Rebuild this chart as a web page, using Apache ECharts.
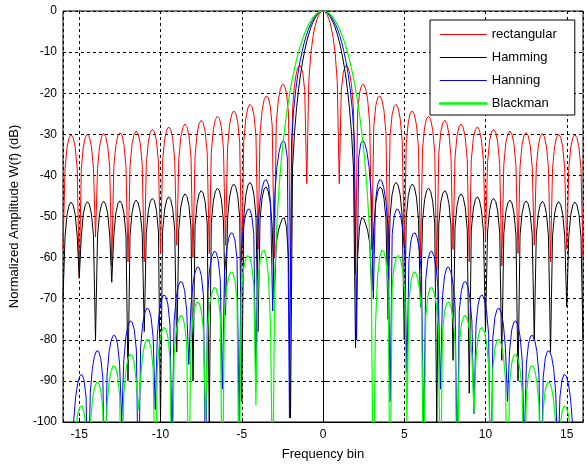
<!DOCTYPE html>
<html>
<head>
<meta charset="utf-8">
<script src="https://cdn.jsdelivr.net/npm/echarts@6/dist/echarts.min.js"></script>
<style>
  html, body { margin: 0; padding: 0; background: #fff; }
  #chart { width: 587px; height: 466px; }
</style>
</head>
<body>
<div id="chart"></div>
<script>
// window spectra in dB
// rectangular / Hamming: one value every 1/8 bin, from bin -16 to 16
const binStart = -16;
const binStep = 0.125;

const rectangular = [
  -58, -38.4, -33.1, -30.8, -30.1, -30.8, -33.1, -38.4,
  -65, -38.4, -33.0, -30.7, -30.0, -30.7, -33.0, -38.3,
  -55, -38.3, -32.9, -30.6, -29.8, -30.5, -32.8, -38.1,
  -62, -38.0, -32.7, -30.3, -29.6, -30.2, -32.5, -37.8,
  -61, -37.7, -32.3, -30.0, -29.2, -29.9, -32.1, -37.4,
  -61, -37.3, -31.9, -29.5, -28.8, -29.4, -31.6, -36.9,
  -59, -36.8, -31.4, -29.0, -28.2, -28.8, -31.0, -36.3,
  -57, -36.1, -30.7, -28.3, -27.5, -28.1, -30.3, -35.5,
  -60, -35.3, -29.9, -27.4, -26.6, -27.2, -29.4, -34.6,
  -59, -34.4, -28.9, -26.4, -25.6, -26.1, -28.3, -33.5,
  -57, -33.2, -27.7, -25.2, -24.3, -24.8, -27.0, -32.1,
  -61, -31.7, -26.2, -23.6, -22.7, -23.2, -25.3, -30.4,
  -58, -29.8, -24.2, -21.6, -20.7, -21.0, -23.0, -28.0,
  -60, -27.4, -21.7, -18.9, -17.8, -18.1, -19.9, -24.8,
  -66, -23.7, -17.8, -14.8, -13.4, -13.4, -14.9, -19.3,
  -42, -17.1, -10.4, -6.5, -3.9, -2.1, -0.9, -0.2,
  0, -0.2, -0.9, -2.1, -3.9, -6.5, -10.4, -17.1,
  -42, -19.3, -14.9, -13.4, -13.4, -14.8, -17.8, -23.7,
  -64, -24.8, -19.9, -18.1, -17.8, -18.9, -21.7, -27.4,
  -58, -28.0, -23.0, -21.0, -20.7, -21.6, -24.2, -29.8,
  -62, -30.4, -25.3, -23.2, -22.7, -23.6, -26.2, -31.7,
  -57, -32.1, -27.0, -24.8, -24.3, -25.2, -27.7, -33.2,
  -60, -33.5, -28.3, -26.1, -25.6, -26.4, -28.9, -34.4,
  -63, -34.6, -29.4, -27.2, -26.6, -27.4, -29.9, -35.3,
  -58, -35.5, -30.3, -28.1, -27.5, -28.3, -30.7, -36.1,
  -61, -36.3, -31.0, -28.8, -28.2, -29.0, -31.4, -36.8,
  -56, -36.9, -31.6, -29.4, -28.8, -29.5, -31.9, -37.3,
  -62, -37.4, -32.1, -29.9, -29.2, -30.0, -32.3, -37.7,
  -59, -37.8, -32.5, -30.2, -29.6, -30.3, -32.7, -38.0,
  -57, -38.1, -32.8, -30.5, -29.8, -30.6, -32.9, -38.3,
  -61, -38.3, -33.0, -30.7, -30.0, -30.7, -33.0, -38.4,
  -58, -38.4, -33.1, -30.8, -30.1, -30.8, -33.1, -38.4,
  -60
];

const hamming = [
  -70, -54.9, -49.5, -47.2, -46.5, -47.2, -49.5, -54.8,
  -65, -54.8, -49.4, -47.1, -46.4, -47.1, -49.4, -54.7,
  -80, -54.7, -49.3, -47.0, -46.3, -47.0, -49.3, -54.6,
  -66, -54.6, -49.2, -46.9, -46.2, -46.9, -49.2, -54.5,
  -90, -54.5, -49.1, -46.7, -46.0, -46.7, -48.9, -54.2,
  -78, -54.1, -48.7, -46.3, -45.6, -46.2, -48.5, -53.8,
  -100, -53.7, -48.4, -46.0, -45.2, -45.8, -48.1, -53.3,
  -83, -53.1, -47.7, -45.3, -44.5, -45.1, -47.3, -52.6,
  -90, -52.3, -46.9, -44.5, -43.7, -44.3, -46.5, -51.8,
  -100, -51.7, -46.3, -43.9, -43.1, -43.7, -45.9, -51.1,
  -74, -50.7, -45.3, -42.9, -42.1, -42.7, -44.9, -50.2,
  -95, -50.1, -44.8, -42.4, -41.7, -42.4, -44.7, -50.0,
  -78, -50.7, -45.5, -43.3, -42.8, -43.8, -46.6, -52.5,
  -70, -56.5, -53.5, -51.8, -50.5, -50.3, -52.5, -60,
  -99, -38.2, -29.4, -23.5, -18.9, -15.2, -12.2, -9.6,
  -7.4, -5.6, -4.0, -2.8, -1.8, -1.0, -0.4, -0.1,
  0, -0.1, -0.4, -1.0, -1.8, -2.8, -4.0, -5.6,
  -7.4, -9.6, -12.2, -15.2, -18.9, -23.5, -29.4, -38.2,
  -82, -60, -52.5, -50.3, -50.5, -51.8, -53.5, -56.5,
  -68, -52.5, -46.6, -43.8, -42.8, -43.3, -45.5, -50.7,
  -75, -50.0, -44.7, -42.4, -41.7, -42.4, -44.8, -50.1,
  -80, -50.2, -44.9, -42.7, -42.1, -42.9, -45.3, -50.7,
  -72, -51.1, -45.9, -43.7, -43.1, -43.9, -46.3, -51.7,
  -100, -51.8, -46.5, -44.3, -43.7, -44.5, -46.9, -52.3,
  -85, -52.6, -47.3, -45.1, -44.5, -45.3, -47.7, -53.1,
  -93, -53.3, -48.1, -45.8, -45.2, -46.0, -48.4, -53.7,
  -78, -53.8, -48.5, -46.2, -45.6, -46.3, -48.7, -54.1,
  -85, -54.2, -48.9, -46.7, -46.0, -46.7, -49.1, -54.5,
  -90, -54.5, -49.2, -46.9, -46.2, -46.9, -49.2, -54.6,
  -80, -54.6, -49.3, -47.0, -46.3, -47.0, -49.3, -54.7,
  -83, -54.7, -49.4, -47.1, -46.4, -47.1, -49.4, -54.8,
  -72, -54.8, -49.5, -47.2, -46.5, -47.2, -49.5, -54.9,
  -80
];

// Hanning / Blackman (symmetric 32-pt windows): lobes are 32/31 bin wide,
// one value every 1/8 lobe, from lobe -15.5 to 15.5 (= bin -16 .. 16)
const lobeStart = -15.5;
const lobeStep = 0.125;
const lobeRange = 15.5;

const hanning = [
  -101.5, -102, -104, -110,
  -120, -100.4, -94.0, -90.6, -88.8, -88.4, -89.7, -93.9,
  -120, -92.9, -87.0, -84.0, -82.7, -82.8, -84.5, -89.2,
  -120, -88.6, -82.8, -80.1, -78.9, -79.1, -81.0, -85.9,
  -100, -85.0, -79.2, -76.5, -75.4, -75.7, -77.6, -82.5,
  -120, -81.8, -76.1, -73.4, -72.3, -72.6, -74.5, -79.5,
  -97, -78.7, -72.9, -70.2, -69.1, -69.4, -71.3, -76.2,
  -105, -75.4, -69.7, -66.9, -65.8, -66.1, -68.0, -72.9,
  -86, -72.0, -66.2, -63.5, -62.3, -62.5, -64.4, -69.3,
  -115, -68.4, -62.6, -59.7, -58.5, -58.7, -60.5, -65.3,
  -92, -64.3, -58.3, -55.3, -54.0, -54.1, -55.7, -60.4,
  -100, -59.0, -52.9, -49.8, -48.3, -48.2, -49.7, -54.3,
  -90, -52.6, -46.3, -43.0, -41.3, -41.0, -42.3, -46.6,
  -73, -44.7, -38.1, -34.4, -32.3, -31.5, -32.2, -35.8,
  -99, -31.8, -24.1, -19.2, -15.4, -12.4, -9.9, -7.8,
  -6.0, -4.5, -3.3, -2.3, -1.4, -0.8, -0.4, -0.1,
  0, -0.1, -0.4, -0.8, -1.4, -2.3, -3.3, -4.5,
  -6.0, -7.8, -9.9, -12.4, -15.4, -19.2, -24.1, -31.8,
  -80, -35.8, -32.2, -31.5, -32.3, -34.4, -38.1, -44.7,
  -70, -46.6, -42.3, -41.0, -41.3, -43.0, -46.3, -52.6,
  -95, -54.3, -49.7, -48.2, -48.3, -49.8, -52.9, -59.0,
  -88, -60.4, -55.7, -54.1, -54.0, -55.3, -58.3, -64.3,
  -105, -65.3, -60.5, -58.7, -58.5, -59.7, -62.6, -68.4,
  -92, -69.3, -64.4, -62.5, -62.3, -63.5, -66.2, -72.0,
  -110, -72.9, -68.0, -66.1, -65.8, -66.9, -69.7, -75.4,
  -98, -76.2, -71.3, -69.4, -69.1, -70.2, -72.9, -78.7,
  -120, -79.5, -74.5, -72.6, -72.3, -73.4, -76.1, -81.8,
  -95, -82.5, -77.6, -75.7, -75.4, -76.5, -79.2, -85.0,
  -105, -85.9, -81.0, -79.1, -78.9, -80.1, -82.8, -88.6,
  -120, -89.2, -84.5, -82.8, -82.7, -84.0, -87.0, -92.9,
  -110, -93.9, -89.7, -88.4, -88.8, -90.6, -94.0, -100.4,
  -120, -110, -104, -102, -101.5
];

const blackman = [
  -106, -106, -108, -115,
  -120, -108.0, -101.4, -98.1, -96.4, -96.1, -97.5, -101.8,
  -120, -100.6, -94.7, -91.7, -90.4, -90.5, -92.2, -96.9,
  -120, -95.9, -90.2, -87.4, -86.3, -86.6, -88.5, -93.4,
  -120, -93.0, -87.3, -84.6, -83.5, -83.8, -85.7, -90.6,
  -97, -89.5, -83.7, -81.0, -79.9, -80.2, -82.1, -87.0,
  -120, -86.4, -80.7, -78.1, -77.0, -77.3, -79.3, -84.3,
  -120, -83.6, -77.9, -75.2, -74.1, -74.4, -76.3, -81.3,
  -120, -80.4, -74.7, -71.9, -70.8, -71.1, -73.0, -77.9,
  -100, -77.0, -71.2, -68.5, -67.3, -67.5, -69.4, -74.3,
  -120, -73.3, -67.5, -64.7, -63.5, -63.7, -65.5, -70.4,
  -120, -68.8, -63.2, -60.5, -59.5, -59.9, -61.9, -66.8,
  -96, -66.1, -60.7, -58.5, -58.2, -60.0, -64.7, -76.9,
  -120, -64.1, -51.5, -43.2, -36.9, -31.8, -27.5, -23.7,
  -20.4, -17.5, -15.0, -12.7, -10.6, -8.8, -7.2, -5.8,
  -4.5, -3.4, -2.5, -1.7, -1.1, -0.6, -0.3, -0.1,
  0, -0.1, -0.3, -0.6, -1.1, -1.7, -2.5, -3.4,
  -4.5, -5.8, -7.2, -8.8, -10.6, -12.7, -15.0, -17.5,
  -20.4, -23.7, -27.5, -31.8, -36.9, -43.2, -51.5, -64.1,
  -120, -76.9, -64.7, -60.0, -58.2, -58.5, -60.7, -66.1,
  -120, -66.8, -61.9, -59.9, -59.5, -60.5, -63.2, -68.8,
  -100, -70.4, -65.5, -63.7, -63.5, -64.7, -67.5, -73.3,
  -120, -74.3, -69.4, -67.5, -67.3, -68.5, -71.2, -77.0,
  -120, -77.9, -73.0, -71.1, -70.8, -71.9, -74.7, -80.4,
  -120, -81.3, -76.3, -74.4, -74.1, -75.2, -77.9, -83.6,
  -98, -84.3, -79.3, -77.3, -77.0, -78.1, -80.7, -86.4,
  -120, -87.0, -82.1, -80.2, -79.9, -81.0, -83.7, -89.5,
  -120, -90.6, -85.7, -83.8, -83.5, -84.6, -87.3, -93.0,
  -120, -93.4, -88.5, -86.6, -86.3, -87.4, -90.2, -95.9,
  -120, -96.9, -92.2, -90.5, -90.4, -91.7, -94.7, -100.6,
  -120, -101.8, -97.5, -96.1, -96.4, -98.1, -101.4, -108.0,
  -120, -115, -108, -106, -106
];

const seriesNames = ['rectangular', 'Hamming', 'Hanning', 'Blackman'];
const seriesColors = ['#ff0000', '#000000', '#0000ff', '#00ff00'];

const font = '"Liberation Sans", Arial, sans-serif';

function pairs(values, start, step) {
  return values.map((v, i) => [start + i * step, v]);
}

const gridDash = { color: '#000', width: 1, type: [3, 3] };

let myChart = echarts.init(document.getElementById('chart'));
let option = {
  animation: false,
  backgroundColor: '#fff',
  textStyle: { fontFamily: font },
  grid: {
    left: 62, right: 4, top: 11, bottom: 44,
    show: true, borderColor: '#000', borderWidth: 1
  },
  legend: {
    orient: 'vertical',
    left: 430,
    top: 20,
    padding: [8, 18, 5, 9],
    itemGap: 10,
    itemWidth: 47,
    itemHeight: 1,
    icon: 'rect',
    backgroundColor: '#fff',
    borderColor: '#000',
    borderWidth: 1,
    borderRadius: 0,
    textStyle: { fontSize: 13, color: '#000', fontFamily: font },
    data: [
      'rectangular',
      'Hamming',
      'Hanning',
      { name: 'Blackman', itemStyle: { borderColor: '#00ff00', borderWidth: 1.5 } }
    ]
  },
  xAxis: [
    {
      type: 'value',
      min: binStart,
      max: -binStart,
      splitNumber: 6,
      name: 'Frequency bin',
      nameLocation: 'middle',
      nameGap: 26,
      nameTextStyle: { fontSize: 13, color: '#000', fontFamily: font },
      axisLine: { show: true, onZero: false, lineStyle: { color: '#000' } },
      axisTick: { show: true, inside: true, length: 4, lineStyle: { color: '#000' } },
      axisLabel: {
        color: '#000', fontSize: 12, margin: 7, fontFamily: font,
        showMinLabel: false, showMaxLabel: false
      },
      splitLine: { show: true, lineStyle: gridDash }
    },
    {
      type: 'value',
      min: lobeStart,
      max: lobeRange,
      show: false,
      splitLine: { show: false }
    }
  ],
  yAxis: {
    type: 'value',
    min: -100,
    max: 0,
    interval: 10,
    name: 'Normalized Amplitude W(f) (dB)',
    nameLocation: 'middle',
    nameGap: 42,
    nameTextStyle: { fontSize: 13, color: '#000', fontFamily: font },
    axisLine: { show: true, lineStyle: { color: '#000' } },
    axisTick: { show: true, inside: true, length: 4, lineStyle: { color: '#000' } },
    axisLabel: { color: '#000', fontSize: 12, margin: 6, fontFamily: font },
    splitLine: { show: true, lineStyle: gridDash }
  },
  series: [
    {
      name: seriesNames[0], type: 'line', xAxisIndex: 0,
      data: pairs(rectangular, binStart, binStep),
      symbol: 'none', clip: true,
      lineStyle: { color: seriesColors[0], width: 1 },
      itemStyle: { color: seriesColors[0] }
    },
    {
      name: seriesNames[1], type: 'line', xAxisIndex: 0,
      data: pairs(hamming, binStart, binStep),
      symbol: 'none', clip: true,
      lineStyle: { color: seriesColors[1], width: 1 },
      itemStyle: { color: seriesColors[1] }
    },
    {
      name: seriesNames[2], type: 'line', xAxisIndex: 1,
      data: pairs(hanning, lobeStart, lobeStep),
      symbol: 'none', clip: true,
      lineStyle: { color: seriesColors[2], width: 1 },
      itemStyle: { color: seriesColors[2] }
    },
    {
      name: seriesNames[3], type: 'line', xAxisIndex: 1,
      data: pairs(blackman, lobeStart, lobeStep),
      symbol: 'none', clip: true,
      lineStyle: { color: seriesColors[3], width: 1.2 },
      itemStyle: { color: seriesColors[3] }
    }
  ]
};
myChart.setOption(option);
</script>
</body>
</html>
